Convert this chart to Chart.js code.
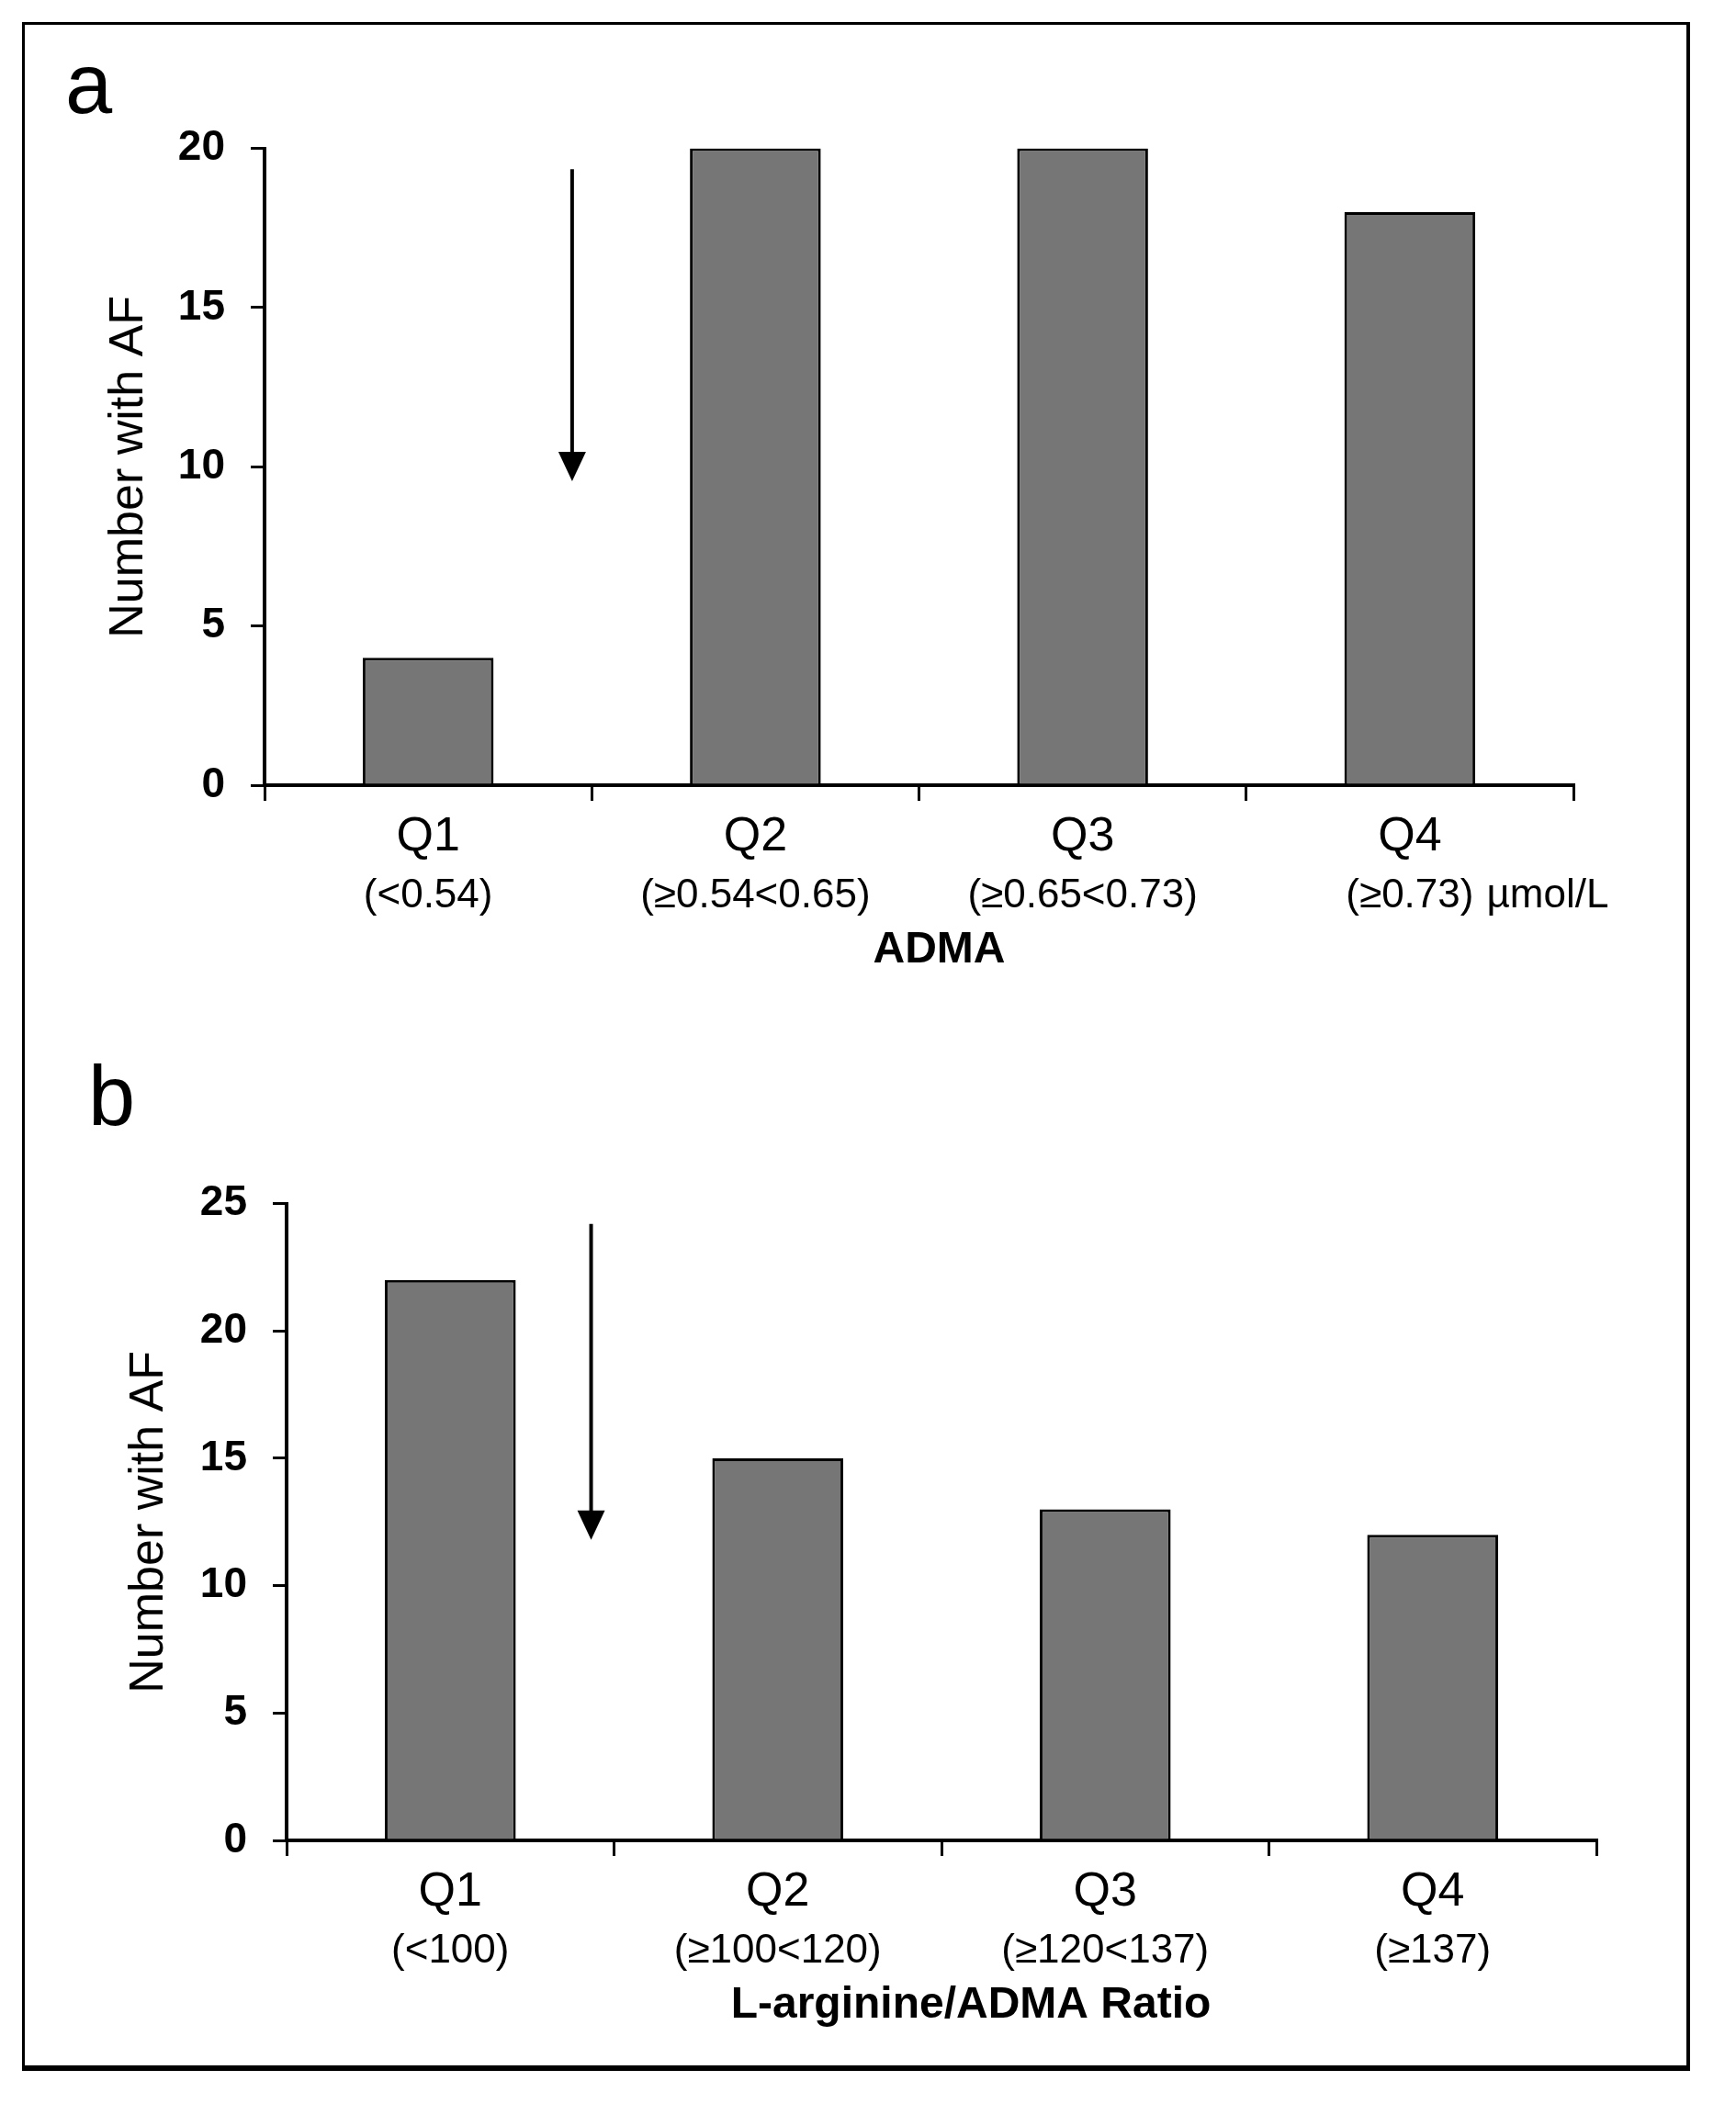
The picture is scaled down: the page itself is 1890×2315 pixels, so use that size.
<!DOCTYPE html>
<html>
<head>
<meta charset="utf-8">
<title>Number with AF by ADMA quartile</title>
<script src="https://cdn.jsdelivr.net/npm/chart.js@4.4.0/dist/chart.umd.min.js"></script>
<style>
  body { margin: 0; width: 1890px; height: 2315px; background: #fff; position: relative; overflow: hidden; }
  #frame { position: absolute; left: 24px; top: 24px; width: 1816px; height: 2231px; box-sizing: border-box;
           border: 3px solid #000; border-bottom-width: 6px; border-right-width: 4px; }
  .panel { position: absolute; font-family: "Liberation Sans", Arial, sans-serif; font-size: 92px; line-height: 92px; color: #000; }
  canvas { position: absolute; }
</style>
</head>
<body>
<div id="frame"></div>
<div class="panel" style="left:71px; top:45px;">a</div>
<div class="panel" style="left:96px; top:1147px;">b</div>
<canvas id="chartA" width="1780" height="974" style="left:40px; top:106px;"></canvas>
<canvas id="chartB" width="1780" height="974" style="left:40px; top:1255px;"></canvas>
<script>
// Panel a - ADMA quartiles
const admaCategories = ['Q1', 'Q2', 'Q3', 'Q4'];
const admaRanges = ['(<0.54)', '(≥0.54<0.65)', '(≥0.65<0.73)', '(≥0.73)'];
const admaCounts = [4, 20, 20, 18];
const admaTicks = [0, 5, 10, 15, 20];
const admaArrow = [0.44, 19.35, 9.55]; // category position, start value, tip value

// Panel b - L-arginine/ADMA ratio quartiles
const ratioCategories = ['Q1', 'Q2', 'Q3', 'Q4'];
const ratioRanges = ['(<100)', '(≥100<120)', '(≥120<137)', '(≥137)'];
const ratioCounts = [22, 15, 13, 12];
const ratioTicks = [0, 5, 10, 15, 20, 25];
const ratioArrow = [0.43, 24.2, 11.8];

const FONT = '"Liberation Sans", Arial, sans-serif';
Chart.defaults.font.family = FONT;
Chart.defaults.color = '#000';

// range labels, axis title and the arrow, all placed through the scales
const quartileLabels = {
  id: 'quartileLabels',
  afterDraw(chart, args, opts) {
    const ctx = chart.ctx;
    const x = chart.scales.x, y = chart.scales.y;
    ctx.save();
    ctx.fillStyle = '#000';
    ctx.strokeStyle = '#000';

    ctx.font = '44px ' + FONT;
    ctx.textAlign = 'center';
    ctx.textBaseline = 'middle';
    opts.ranges.forEach((t, i) => ctx.fillText(t, x.getPixelForValue(i), x.top + 121));
    if (opts.unit) {
      const last = opts.ranges.length - 1;
      const w = ctx.measureText(opts.ranges[last]).width;
      ctx.textAlign = 'left';
      ctx.fillText(opts.unit, x.getPixelForValue(last) + w / 2 + 14, x.top + 121);
    }

    ctx.font = 'bold 48px ' + FONT;
    ctx.textAlign = 'center';
    const mid = (chart.chartArea.left + chart.chartArea.right) / 2;
    ctx.fillText(opts.title, mid + opts.titleShift, x.top + 180);

    // downward arrow
    const ax = x.getPixelForValue(opts.arrow[0]);
    const y0 = y.getPixelForValue(opts.arrow[1]);
    const y1 = y.getPixelForValue(opts.arrow[2]);
    ctx.lineWidth = 4;
    ctx.beginPath();
    ctx.moveTo(ax, y0);
    ctx.lineTo(ax, y1 - 26);
    ctx.stroke();
    ctx.beginPath();
    ctx.moveTo(ax - 15, y1 - 32);
    ctx.lineTo(ax + 15, y1 - 32);
    ctx.lineTo(ax, y1);
    ctx.closePath();
    ctx.fill();
    ctx.restore();
  }
};

function makeChart(id, categories, counts, ticks, extra, box) {
  return new Chart(document.getElementById(id), {
    type: 'bar',
    data: {
      labels: categories,
      datasets: [{
        data: counts,
        backgroundColor: '#767676',
        borderColor: '#000',
        borderWidth: 3,
        barPercentage: 0.40,
        categoryPercentage: 1.0
      }]
    },
    options: {
      responsive: false,
      animation: false,
      events: [],
      layout: { padding: { left: 0, right: box.right, top: 30, bottom: 0 } },
      scales: {
        x: {
          afterFit: s => { s.height = 225; },
          grid: { offset: true, drawOnChartArea: false, drawTicks: true, tickLength: 17, color: '#000', lineWidth: 3 },
          border: { display: true, color: '#000', width: 4 },
          ticks: { font: { size: 52 }, color: '#000', padding: 8 }
        },
        y: {
          min: ticks[0],
          max: ticks[ticks.length - 1],
          afterBuildTicks: s => { s.ticks = ticks.map(v => ({ value: v })); },
          afterFit: s => { s.width = box.yWidth; },
          grid: { drawOnChartArea: false, drawTicks: true, tickLength: 15, color: '#000', lineWidth: 3 },
          border: { display: true, color: '#000', width: 4 },
          ticks: { font: { size: 46, weight: 'bold' }, color: '#000', padding: 28 },
          title: { display: true, text: 'Number with AF', font: { size: 52 }, color: '#000', padding: { top: box.titlePad, bottom: 0 } }
        }
      },
      plugins: {
        legend: { display: false },
        tooltip: { enabled: false },
        quartileLabels: extra
      }
    },
    plugins: [quartileLabels]
  });
}

makeChart('chartA', admaCategories, admaCounts, admaTicks,
  { ranges: admaRanges, unit: 'µmol/L', title: 'ADMA', titleShift: 22, arrow: admaArrow },
  { right: 107, yWidth: 248, titlePad: 69 });

makeChart('chartB', ratioCategories, ratioCounts, ratioTicks,
  { ranges: ratioRanges, unit: '', title: 'L-arginine/ADMA Ratio', titleShift: 32, arrow: ratioArrow },
  { right: 82, yWidth: 272, titlePad: 91 });
</script>
</body>
</html>
